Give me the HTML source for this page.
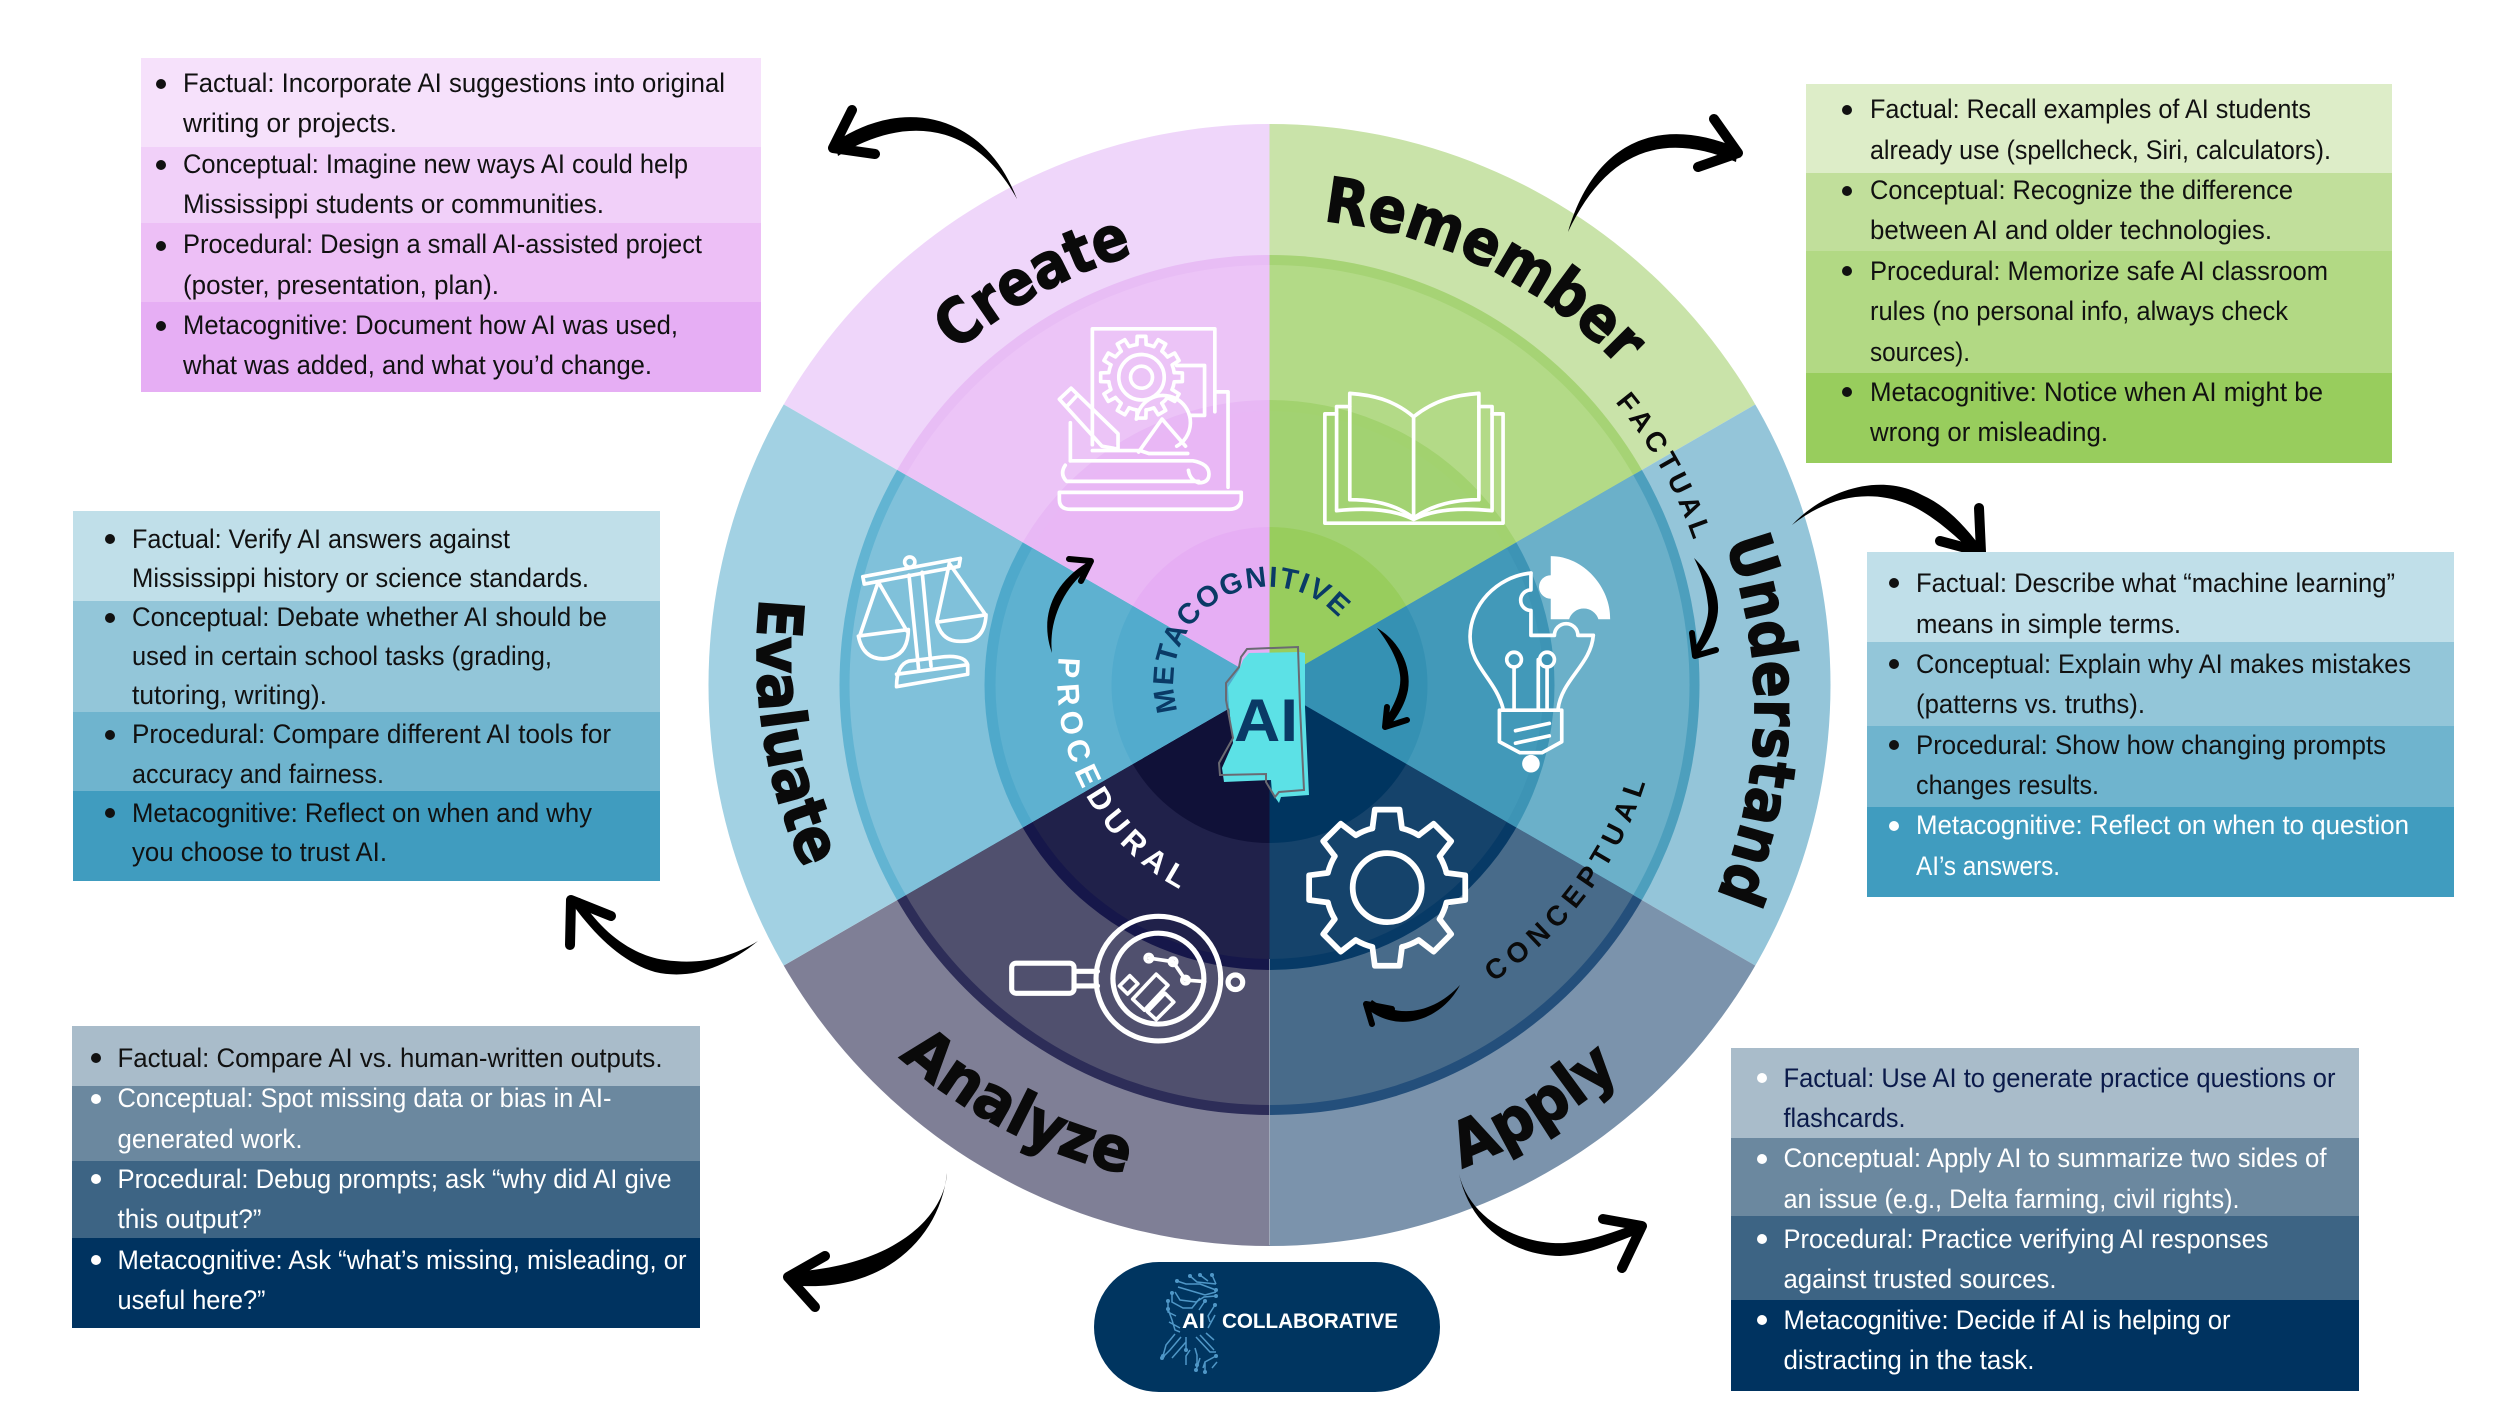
<!DOCTYPE html>
<html lang="en"><head><meta charset="utf-8"><title>AI Bloom's Taxonomy Wheel</title>
<style>html,body{margin:0;padding:0;background:#fff}svg{display:block}
.t{font-family:"Liberation Sans",sans-serif;font-size:27px;fill:#111}
.w{fill:#fff}.n{fill:#0b1a4a}
.h{font-family:"DejaVu Sans",sans-serif;font-weight:700;font-size:62px;fill:#0a0a0a;stroke:#0a0a0a;stroke-width:1.4}
.s{font-family:"Liberation Sans",sans-serif;font-weight:700;font-size:31px}
.i{fill:none;stroke:#fff;stroke-width:5;stroke-linejoin:round;stroke-linecap:round}
.b{fill:none;stroke:#000;stroke-width:10;stroke-linecap:round;stroke-linejoin:round}
.b6{fill:none;stroke:#000;stroke-width:6;stroke-linecap:round;stroke-linejoin:round}
.c{fill:none;stroke:#4f97c7;stroke-width:1.5}
</style></head><body>
<svg xmlns="http://www.w3.org/2000/svg" width="2500" height="1406" viewBox="0 0 2500 1406">
<defs>
<clipPath id="cCreate"><polygon points="1271,686 1271,-14 665,336"/></clipPath>
<clipPath id="cRem"><polygon points="1271,686 1271,-14 1877,336"/></clipPath>
<clipPath id="cUnd"><polygon points="1271,686 1877,336 1877,1036"/></clipPath>
<clipPath id="cApp"><polygon points="1271,686 1877,1036 1271,1386"/></clipPath>
<clipPath id="cAna"><polygon points="1271,686 1271,1386 665,1036"/></clipPath>
<clipPath id="cEva"><polygon points="1271,686 665,1036 665,336"/></clipPath>
<path id="pRem" d="M1323,221 A470,470 0 0 1 1626,374"/>
<path id="pCre" d="M956,352 A480,480 0 0 1 1136,254"/>
<path id="pUnd" d="M1725,542 A480,480 0 0 1 1714,902"/>
<path id="pApp" d="M1462,1168 A517,517 0 0 0 1620,1072"/>
<path id="pAna" d="M899,1057 A515,515 0 0 0 1126,1174"/>
<path id="pEva" d="M760,598 A515,515 0 0 0 808,878"/>
<path id="pMeta" d="M1178,711 A95,95 0 0 1 1358.800,652.500"/>
<path id="pProc" d="M1059,657 A235,235 0 0 0 1215,905"/>
<path id="pFact" d="M1615,402 A447,447 0 0 1 1700,560"/>
<path id="pConc" d="M1493,982 A375,375 0 0 0 1652,760"/>
</defs>
<rect width="2500" height="1406" fill="#fff"/>

<!-- wheel -->
<g transform="translate(-1.5,-1)">
<g clip-path="url(#cCreate)"><circle cx="1271" cy="686" r="561" fill="#efd6fa"/><circle cx="1271" cy="686" r="430" fill="#e8bdf5"/><circle cx="1271" cy="686" r="420" fill="#ecc4f7"/><circle cx="1271" cy="686" r="285" fill="#e8b8f5"/><circle cx="1271" cy="686" r="274" fill="#e9b7f5"/><circle cx="1271" cy="686" r="158" fill="#e6aef4"/></g>
<g clip-path="url(#cRem)"><circle cx="1271" cy="686" r="561" fill="#c9e3a9"/><circle cx="1271" cy="686" r="430" fill="#a6d375"/><circle cx="1271" cy="686" r="420" fill="#b3da87"/><circle cx="1271" cy="686" r="285" fill="#a2d26f"/><circle cx="1271" cy="686" r="274" fill="#a2d272"/><circle cx="1271" cy="686" r="158" fill="#98cd5d"/></g>
<g clip-path="url(#cUnd)"><circle cx="1271" cy="686" r="561" fill="#94c5d9"/><circle cx="1271" cy="686" r="430" fill="#4d9fbd"/><circle cx="1271" cy="686" r="420" fill="#6bb0c9"/><circle cx="1271" cy="686" r="285" fill="#3d94b5"/><circle cx="1271" cy="686" r="274" fill="#4299b9"/><circle cx="1271" cy="686" r="158" fill="#3591b3"/></g>
<g clip-path="url(#cApp)"><circle cx="1271" cy="686" r="561" fill="#7b93ac"/><circle cx="1271" cy="686" r="430" fill="#244f7b"/><circle cx="1271" cy="686" r="420" fill="#486b8a"/><circle cx="1271" cy="686" r="285" fill="#073a66"/><circle cx="1271" cy="686" r="274" fill="#15436b"/><circle cx="1271" cy="686" r="158" fill="#003560"/></g>
<g clip-path="url(#cAna)"><circle cx="1271" cy="686" r="561" fill="#7f7f96"/><circle cx="1271" cy="686" r="430" fill="#2d2d58"/><circle cx="1271" cy="686" r="420" fill="#50506e"/><circle cx="1271" cy="686" r="285" fill="#16174a"/><circle cx="1271" cy="686" r="274" fill="#20214a"/><circle cx="1271" cy="686" r="158" fill="#101138"/></g>
<g clip-path="url(#cEva)"><circle cx="1271" cy="686" r="561" fill="#a2d1e3"/><circle cx="1271" cy="686" r="430" fill="#62b4d2"/><circle cx="1271" cy="686" r="420" fill="#80c1da"/><circle cx="1271" cy="686" r="285" fill="#4fa9cb"/><circle cx="1271" cy="686" r="274" fill="#5eb1d0"/><circle cx="1271" cy="686" r="158" fill="#52abcd"/></g>
<line x1="1271" y1="960" x2="1271" y2="1246" stroke="#b7c0cc" stroke-width="1" opacity=".6"/>
</g>

<!-- wheel labels -->
<text class="h" textLength="338" lengthAdjust="spacingAndGlyphs"><textPath href="#pRem">Remember</textPath></text>
<text class="h" textLength="204" lengthAdjust="spacingAndGlyphs"><textPath href="#pCre">Create</textPath></text>
<text class="h" textLength="362" lengthAdjust="spacingAndGlyphs"><textPath href="#pUnd">Understand</textPath></text>
<text class="h" textLength="186" lengthAdjust="spacingAndGlyphs"><textPath href="#pApp">Apply</textPath></text>
<text class="h" textLength="258" lengthAdjust="spacingAndGlyphs"><textPath href="#pAna">Analyze</textPath></text>
<text class="h" textLength="278" lengthAdjust="spacingAndGlyphs"><textPath href="#pEva">Evaluate</textPath></text>
<text class="s" fill="#0a3a66" style="font-size:29px;letter-spacing:1.5px"><textPath href="#pMeta">METACOGNITIVE</textPath></text>
<text class="s" fill="#fff" style="letter-spacing:6.5px"><textPath href="#pProc">PROCEDURAL</textPath></text>
<text class="s" fill="#0a0a0a" style="font-size:28px;letter-spacing:4.8px"><textPath href="#pFact">FACTUAL</textPath></text>
<text class="s" fill="#0a0a0a" style="font-size:28px;letter-spacing:6.800px"><textPath href="#pConc">CONCEPTUAL</textPath></text>

<!-- icons (coordinates in a magnified frame) -->
<g transform="translate(700,100) scale(.7334)">
 <!-- book -->
 <g class="i">
  <path d="M973,432C945,408 915,402 886,400V545C920,545 950,552 973,570Z"/>
  <path d="M973,432C1003,408 1033,402 1062,400V545C1030,545 998,552 973,570"/>
  <path d="M886,418H868V560C915,555 950,560 973,572C996,560 1032,555 1080,560V418H1062"/>
  <path d="M868,428H852V577H1095V428H1080"/>
 </g>
 <!-- create icon -->
 <g class="i">
  <path d="M535,470V312H702V425"/>
  <path d="M650,362H688V430H668"/>
  <g transform="translate(602,378)">
   <path d="M-6.3,-44.6L-5.9,-55.7L5.9,-55.7L6.3,-44.6A45,45 0 0 1 16.9,-41.7"/>
   <path transform="rotate(30)" d="M-6.3,-44.6L-5.9,-55.7L5.9,-55.7L6.3,-44.6A45,45 0 0 1 16.9,-41.7"/>
   <path transform="rotate(60)" d="M-6.3,-44.6L-5.9,-55.7L5.9,-55.7L6.3,-44.6A45,45 0 0 1 16.9,-41.7"/>
   <path transform="rotate(90)" d="M-6.3,-44.6L-5.9,-55.7L5.9,-55.7L6.3,-44.6A45,45 0 0 1 16.9,-41.7"/>
   <path transform="rotate(120)" d="M-6.3,-44.6L-5.9,-55.7L5.9,-55.7L6.3,-44.6A45,45 0 0 1 16.9,-41.7"/>
   <path transform="rotate(150)" d="M-6.3,-44.6L-5.9,-55.7L5.9,-55.7L6.3,-44.6A45,45 0 0 1 16.9,-41.7"/>
   <path transform="rotate(180)" d="M-6.3,-44.6L-5.9,-55.7L5.9,-55.7L6.3,-44.6A45,45 0 0 1 16.9,-41.7"/>
   <path transform="rotate(210)" d="M-6.3,-44.6L-5.9,-55.7L5.9,-55.7L6.3,-44.6A45,45 0 0 1 16.9,-41.7"/>
   <path transform="rotate(240)" d="M-6.3,-44.6L-5.9,-55.7L5.9,-55.7L6.3,-44.6A45,45 0 0 1 16.9,-41.7"/>
   <path transform="rotate(270)" d="M-6.3,-44.6L-5.9,-55.7L5.9,-55.7L6.3,-44.6A45,45 0 0 1 16.9,-41.7"/>
   <path transform="rotate(300)" d="M-6.3,-44.6L-5.9,-55.7L5.9,-55.7L6.3,-44.6A45,45 0 0 1 16.9,-41.7"/>
   <path transform="rotate(330)" d="M-6.3,-44.6L-5.9,-55.7L5.9,-55.7L6.3,-44.6A45,45 0 0 1 16.9,-41.7"/>
   <circle r="31"/><circle r="15"/>
  </g>
  <path d="M595,435A37,37 0 1 1 650,472"/>
  <path d="M598,480L630,435L662,472"/>
  <path d="M490,408L506,393L570,455V476L548,472Z"/><path d="M500,418L514,403"/>
  <path d="M505,440V492M702,398H720V528"/>
  <path d="M535,478H600L612,482H665"/>
  <path d="M505,492H672Q694,496 694,510Q694,522 680,522Q668,518 666,505M498,498Q490,510 500,520H680"/>
  <path d="M490,535H738V545Q736,558 722,558H505Q490,558 490,545Z"/>
 </g>
 <!-- scale -->
 <g class="i">
  <circle cx="286" cy="630" r="7"/>
  <path d="M222,650L355,625L353,636L224,660Z"/>
  <path d="M285,648L298,775M303,644L315,772"/>
  <path d="M243,657L218,730M243,657L282,724M216,731L284,722Q284,760 250,762Q222,762 216,731Z"/>
  <path d="M340,632L323,710M340,632L388,700M323,712L390,702Q388,738 358,738Q330,740 323,712Z"/>
  <path d="M268,783L365,770Q360,755 325,760L285,765Q268,770 268,800L365,783V770"/>
 </g>
 <!-- bulb -->
 <g class="i">
  <path d="M1133,645C1085,650 1050,690 1050,732C1050,772 1085,790 1095,830"/>
  <path d="M1218,730C1215,770 1175,790 1170,830"/>
  <path d="M1133,645V668A14,14 0 0 0 1133,696V730H1165A16,16 0 0 1 1197,730H1218"/>
  <circle cx="1110" cy="763" r="10"/><circle cx="1155" cy="763" r="10"/>
  <path d="M1110,775V832M1143,763V832M1155,773V832"/>
  <path d="M1090,832H1175V875L1148,890H1118L1090,875Z"/>
  <path d="M1112,860L1158,850M1112,877L1158,867"/>
 </g>
 <path fill="#fff" d="M1160,622C1205,622 1242,665 1241,708H1225A21,21 0 0 0 1185,708H1160V680A16,16 0 0 1 1160,648Z"/>
 <circle cx="1133" cy="905" r="12" fill="#fff"/>
 <!-- apply gear -->
 <g class="i" style="stroke-width:8" transform="translate(937,1074) scale(.98)">
  <path d="M-20.6,-82.5L-17.2,-108.6L17.2,-108.6L20.6,-82.5A85,85 0 0 1 43.8,-72.9"/>
  <path transform="rotate(45)" d="M-20.6,-82.5L-17.2,-108.6L17.2,-108.6L20.6,-82.5A85,85 0 0 1 43.8,-72.9"/>
  <path transform="rotate(90)" d="M-20.6,-82.5L-17.2,-108.6L17.2,-108.6L20.6,-82.5A85,85 0 0 1 43.8,-72.9"/>
  <path transform="rotate(135)" d="M-20.6,-82.5L-17.2,-108.6L17.2,-108.6L20.6,-82.5A85,85 0 0 1 43.8,-72.9"/>
  <path transform="rotate(180)" d="M-20.6,-82.5L-17.2,-108.6L17.2,-108.6L20.6,-82.5A85,85 0 0 1 43.8,-72.9"/>
  <path transform="rotate(225)" d="M-20.6,-82.5L-17.2,-108.6L17.2,-108.6L20.6,-82.5A85,85 0 0 1 43.8,-72.9"/>
  <path transform="rotate(270)" d="M-20.6,-82.5L-17.2,-108.6L17.2,-108.6L20.6,-82.5A85,85 0 0 1 43.8,-72.9"/>
  <path transform="rotate(315)" d="M-20.6,-82.5L-17.2,-108.6L17.2,-108.6L20.6,-82.5A85,85 0 0 1 43.8,-72.9"/>
  <circle r="48"/>
 </g>
 <!-- magnifier -->
 <g class="i" style="stroke-width:7">
  <circle cx="625" cy="1198" r="85"/><circle cx="625" cy="1198" r="62"/>
  <rect x="425" y="1177" width="85" height="41" rx="6"/>
  <path d="M510,1188H542M510,1208H542"/>
  <circle cx="730" cy="1203" r="10"/>
 </g>
 <g class="i" style="stroke-width:5">
  <path d="M572,1208L586,1194L597,1205L583,1219Z"/>
  <path d="M590,1226L622,1192L638,1207L606,1241Z"/>
  <path d="M610,1243L634,1218L646,1230L622,1254Z"/>
  <path d="M612,1170L645,1175L662,1200L688,1202"/>
  <circle cx="612" cy="1170" r="5"/><circle cx="645" cy="1175" r="5"/><circle cx="662" cy="1200" r="5"/>
 </g>
</g>

<!-- Mississippi -->
<path fill="#5ce1e6" d="M1249,653L1300,652L1305,653L1305,707L1309,795L1281,797L1279,803L1272,793L1271,780L1224,782L1222,768L1233,743L1229,707L1228,687L1239,670L1243,660Z"/>
<path fill="none" stroke="#6a6a72" stroke-width="2" d="M1247,649L1298,647L1300,707L1304,790L1279,792L1275,797L1266,782L1266,774L1220,775L1219,763L1233,738L1226,700L1226,683L1239,667L1241,657Z"/>
<text x="1234" y="741" textLength="64" lengthAdjust="spacingAndGlyphs" style="font-family:'Liberation Sans',sans-serif;font-weight:700;font-size:60px;fill:#0a3a66">AI</text>

<!-- outer arrows -->
<path d="M1017,199C985,115 905,95 835,142L838,156C905,114 975,122 1017,199Z"/><polyline class="b" points="852,110 833,148 875,154"/>
<path d="M1568,232C1595,140 1660,115 1738,148L1736,162C1660,129 1605,154 1568,232Z"/><polyline class="b" points="1714,119 1738,153 1698,167"/>
<path d="M1792,525C1825,490 1880,472 1922,495C1945,505 1965,525 1985,553L1972,552C1950,530 1925,510 1905,503C1870,490 1830,495 1792,525Z"/><polyline class="b" points="1979,508 1981,552 1940,541"/>
<path d="M1459,1174C1470,1220 1520,1245 1565,1243C1590,1241 1615,1232 1640,1222L1643,1232C1615,1242 1590,1255 1560,1256C1510,1255 1470,1225 1459,1174Z"/><polyline class="b" points="1603,1219 1642,1226 1622,1268"/>
<path d="M947,1173C945,1210 905,1265 790,1272L790,1285C880,1295 940,1240 947,1173Z"/><polyline class="b" points="825,1256 788,1277 815,1307"/>
<path d="M758,941C725,968 690,980 655,972C620,962 590,930 568,898L580,898C600,930 630,955 665,960C700,965 730,958 758,941Z"/><polyline class="b" points="611,916 571,900 570,945"/>
<!-- inner arrows -->
<path d="M1694,558C1712,575 1724,600 1715,625C1711,637 1704,648 1697,656L1692,652C1700,640 1710,620 1708,605C1706,585 1700,570 1694,558Z"/><polyline class="b6" points="1716,650 1695,656 1692,633"/>
<path d="M1460,985C1443,1018 1400,1036 1366,1008L1372,1000C1400,1020 1435,1012 1460,985Z"/><polyline class="b6" points="1372,1024 1366,1004 1392,1009"/>
<path d="M1377,628C1398,640 1412,665 1408,690C1405,705 1398,715 1390,726L1384,722C1394,705 1402,690 1400,675C1398,660 1390,645 1377,628Z"/><polyline class="b6" points="1387,707 1385,727 1407,720"/>
<path d="M1052,653C1040,620 1050,585 1088,562L1091,567C1065,585 1048,620 1052,653Z"/><polyline class="b6" points="1069,559 1091,561 1081,581"/>

<!-- Create panel -->
<rect x="141" y="58" width="620" height="89" fill="#f6e1fb"/><rect x="141" y="147" width="620" height="76" fill="#f1d0f9"/><rect x="141" y="223" width="620" height="79" fill="#edbff6"/><rect x="141" y="302" width="620" height="90" fill="#e6aef4"/>
<g fill="#111"><circle cx="161" cy="84" r="5"/><circle cx="161" cy="165" r="5"/><circle cx="161" cy="246" r="5"/><circle cx="161" cy="326" r="5"/></g>
<text class="t" x="183" y="92" textLength="542" lengthAdjust="spacingAndGlyphs">Factual: Incorporate AI suggestions into original</text>
<text class="t" x="183" y="132" textLength="214" lengthAdjust="spacingAndGlyphs">writing or projects.</text>
<text class="t" x="183" y="173" textLength="505" lengthAdjust="spacingAndGlyphs">Conceptual: Imagine new ways AI could help</text>
<text class="t" x="183" y="213" textLength="421" lengthAdjust="spacingAndGlyphs">Mississippi students or communities.</text>
<text class="t" x="183" y="253" textLength="519" lengthAdjust="spacingAndGlyphs">Procedural: Design a small AI-assisted project</text>
<text class="t" x="183" y="294" textLength="316" lengthAdjust="spacingAndGlyphs">(poster, presentation, plan).</text>
<text class="t" x="183" y="334" textLength="495" lengthAdjust="spacingAndGlyphs">Metacognitive: Document how AI was used,</text>
<text class="t" x="183" y="374" textLength="469" lengthAdjust="spacingAndGlyphs">what was added, and what you’d change.</text>

<!-- Remember panel -->
<rect x="1806" y="84" width="586" height="89" fill="#ddedc8"/><rect x="1806" y="173" width="586" height="78" fill="#c1df9b"/><rect x="1806" y="251" width="586" height="122" fill="#b2d984"/><rect x="1806" y="373" width="586" height="90" fill="#98cd5d"/>
<g fill="#111"><circle cx="1847" cy="110" r="5"/><circle cx="1847" cy="191" r="5"/><circle cx="1847" cy="271" r="5"/><circle cx="1847" cy="392" r="5"/></g>
<text class="t" x="1870" y="118" textLength="441" lengthAdjust="spacingAndGlyphs">Factual: Recall examples of AI students</text>
<text class="t" x="1870" y="159" textLength="461" lengthAdjust="spacingAndGlyphs">already use (spellcheck, Siri, calculators).</text>
<text class="t" x="1870" y="199" textLength="423" lengthAdjust="spacingAndGlyphs">Conceptual: Recognize the difference</text>
<text class="t" x="1870" y="239" textLength="402" lengthAdjust="spacingAndGlyphs">between AI and older technologies.</text>
<text class="t" x="1870" y="280" textLength="458" lengthAdjust="spacingAndGlyphs">Procedural: Memorize safe AI classroom</text>
<text class="t" x="1870" y="320" textLength="418" lengthAdjust="spacingAndGlyphs">rules (no personal info, always check</text>
<text class="t" x="1870" y="361" textLength="100" lengthAdjust="spacingAndGlyphs">sources).</text>
<text class="t" x="1870" y="401" textLength="453" lengthAdjust="spacingAndGlyphs">Metacognitive: Notice when AI might be</text>
<text class="t" x="1870" y="441" textLength="238" lengthAdjust="spacingAndGlyphs">wrong or misleading.</text>

<!-- Understand panel -->
<rect x="1867" y="552" width="587" height="90" fill="#c0dfe9"/><rect x="1867" y="642" width="587" height="84" fill="#93c6d9"/><rect x="1867" y="726" width="587" height="81" fill="#6fb4ce"/><rect x="1867" y="807" width="587" height="90" fill="#409cbf"/>
<circle cx="1894" cy="583" r="5" fill="#111"/><circle cx="1894" cy="664" r="5" fill="#111"/><circle cx="1894" cy="745" r="5" fill="#111"/><circle cx="1894" cy="826" r="5" fill="#fff"/>
<text class="t" x="1916" y="592" textLength="479" lengthAdjust="spacingAndGlyphs">Factual: Describe what “machine learning”</text>
<text class="t" x="1916" y="633" textLength="265" lengthAdjust="spacingAndGlyphs">means in simple terms.</text>
<text class="t" x="1916" y="673" textLength="495" lengthAdjust="spacingAndGlyphs">Conceptual: Explain why AI makes mistakes</text>
<text class="t" x="1916" y="713" textLength="229" lengthAdjust="spacingAndGlyphs">(patterns vs. truths).</text>
<text class="t" x="1916" y="754" textLength="470" lengthAdjust="spacingAndGlyphs">Procedural: Show how changing prompts</text>
<text class="t" x="1916" y="794" textLength="183" lengthAdjust="spacingAndGlyphs">changes results.</text>
<text class="t w" x="1916" y="834" textLength="493" lengthAdjust="spacingAndGlyphs">Metacognitive: Reflect on when to question</text>
<text class="t w" x="1916" y="875" textLength="144" lengthAdjust="spacingAndGlyphs">AI’s answers.</text>

<!-- Apply panel -->
<rect x="1731" y="1048" width="628" height="90" fill="#a9bcca"/><rect x="1731" y="1138" width="628" height="78" fill="#6b889f"/><rect x="1731" y="1216" width="628" height="84" fill="#3d6484"/><rect x="1731" y="1300" width="628" height="91" fill="#003360"/>
<g fill="#fff"><circle cx="1762" cy="1078" r="5"/><circle cx="1762" cy="1159" r="5"/><circle cx="1762" cy="1239" r="5"/><circle cx="1762" cy="1320" r="5"/></g>
<text class="t n" x="1783.500" y="1087" textLength="552" lengthAdjust="spacingAndGlyphs">Factual: Use AI to generate practice questions or</text>
<text class="t n" x="1783.500" y="1127" textLength="122" lengthAdjust="spacingAndGlyphs">flashcards.</text>
<text class="t w" x="1783.500" y="1167" textLength="543" lengthAdjust="spacingAndGlyphs">Conceptual: Apply AI to summarize two sides of</text>
<text class="t w" x="1783.500" y="1208" textLength="456" lengthAdjust="spacingAndGlyphs">an issue (e.g., Delta farming, civil rights).</text>
<text class="t w" x="1783.500" y="1248" textLength="485" lengthAdjust="spacingAndGlyphs">Procedural: Practice verifying AI responses</text>
<text class="t w" x="1783.500" y="1288" textLength="273" lengthAdjust="spacingAndGlyphs">against trusted sources.</text>
<text class="t w" x="1783.500" y="1329" textLength="447" lengthAdjust="spacingAndGlyphs">Metacognitive: Decide if AI is helping or</text>
<text class="t w" x="1783.500" y="1369" textLength="251" lengthAdjust="spacingAndGlyphs">distracting in the task.</text>

<!-- Evaluate panel -->
<rect x="73" y="511" width="587" height="90" fill="#c0dfe9"/><rect x="73" y="601" width="587" height="111" fill="#93c6d9"/><rect x="73" y="712" width="587" height="79" fill="#6fb4ce"/><rect x="73" y="791" width="587" height="90" fill="#409cbf"/>
<g fill="#111"><circle cx="110" cy="539" r="5"/><circle cx="110" cy="618" r="5"/><circle cx="110" cy="735" r="5"/><circle cx="110" cy="813" r="5"/></g>
<text class="t" x="132" y="548" textLength="378" lengthAdjust="spacingAndGlyphs">Factual: Verify AI answers against</text>
<text class="t" x="132" y="587" textLength="457" lengthAdjust="spacingAndGlyphs">Mississippi history or science standards.</text>
<text class="t" x="132" y="626" textLength="475" lengthAdjust="spacingAndGlyphs">Conceptual: Debate whether AI should be</text>
<text class="t" x="132" y="665" textLength="420" lengthAdjust="spacingAndGlyphs">used in certain school tasks (grading,</text>
<text class="t" x="132" y="704" textLength="195" lengthAdjust="spacingAndGlyphs">tutoring, writing).</text>
<text class="t" x="132" y="743" textLength="479" lengthAdjust="spacingAndGlyphs">Procedural: Compare different AI tools for</text>
<text class="t" x="132" y="783" textLength="252" lengthAdjust="spacingAndGlyphs">accuracy and fairness.</text>
<text class="t" x="132" y="822" textLength="460" lengthAdjust="spacingAndGlyphs">Metacognitive: Reflect on when and why</text>
<text class="t" x="132" y="861" textLength="255" lengthAdjust="spacingAndGlyphs">you choose to trust AI.</text>

<!-- Analyze panel -->
<rect x="72" y="1026" width="628" height="60" fill="#a9bcca"/><rect x="72" y="1086" width="628" height="75" fill="#6b889f"/><rect x="72" y="1161" width="628" height="77" fill="#3d6484"/><rect x="72" y="1238" width="628" height="90" fill="#003360"/>
<circle cx="96" cy="1058" r="5" fill="#111"/><g fill="#fff"><circle cx="96" cy="1099" r="5"/><circle cx="96" cy="1179" r="5"/><circle cx="96" cy="1260" r="5"/></g>
<text class="t" x="117.500" y="1067" textLength="545" lengthAdjust="spacingAndGlyphs">Factual: Compare AI vs. human-written outputs.</text>
<text class="t w" x="117.500" y="1107" textLength="494" lengthAdjust="spacingAndGlyphs">Conceptual: Spot missing data or bias in AI-</text>
<text class="t w" x="117.500" y="1148" textLength="185" lengthAdjust="spacingAndGlyphs">generated work.</text>
<text class="t w" x="117.500" y="1188" textLength="554" lengthAdjust="spacingAndGlyphs">Procedural: Debug prompts; ask “why did AI give</text>
<text class="t w" x="117.500" y="1228" textLength="144" lengthAdjust="spacingAndGlyphs">this output?”</text>
<text class="t w" x="117.500" y="1269" textLength="569" lengthAdjust="spacingAndGlyphs">Metacognitive: Ask “what’s missing, misleading, or</text>
<text class="t w" x="117.500" y="1309" textLength="148" lengthAdjust="spacingAndGlyphs">useful here?”</text>

<!-- pill logo -->
<rect x="1094" y="1262" width="346" height="130" rx="65" fill="#003560"/>
<g class="c">
 <path d="M1177,1281L1186,1284L1200,1284L1216,1290M1190,1276L1197,1282L1216,1284M1200,1275L1208,1281M1212,1275L1216,1284"/>
 <path d="M1178,1287L1195,1292L1205,1295L1216,1292M1175,1292L1180,1300L1196,1302L1204,1297L1216,1296"/>
 <path d="M1172,1293V1302L1183,1308H1192L1200,1298M1168,1301V1312L1176,1316M1168,1309L1172,1320L1175,1330L1180,1332M1169,1322L1180,1328"/>
 <path d="M1205,1301L1199,1310M1215,1305L1208,1316L1210,1322M1215,1315L1208,1328M1206,1333L1214,1340"/>
 <path d="M1175,1334L1166,1345L1163,1356M1181,1337L1170,1350L1162,1358M1186,1342L1172,1358M1186,1337V1350"/>
 <path d="M1190,1350L1186,1356V1365M1195,1348L1197,1355V1365M1196,1337L1210,1352L1216,1352M1200,1335L1214,1350"/>
 <path d="M1200,1358L1196,1370M1205,1362L1203,1368M1216,1356L1205,1362L1205,1372M1217,1362L1212,1368"/>
</g>
<g fill="#4f97c7"><circle cx="1177" cy="1281" r="2"/><circle cx="1190" cy="1276" r="2"/><circle cx="1200" cy="1275" r="2"/><circle cx="1212" cy="1275" r="2"/><circle cx="1216" cy="1290" r="2"/><circle cx="1216" cy="1296" r="2"/><circle cx="1172" cy="1293" r="2"/><circle cx="1168" cy="1301" r="2"/><circle cx="1168" cy="1309" r="2"/><circle cx="1205" cy="1301" r="2"/><circle cx="1215" cy="1305" r="2"/><circle cx="1163" cy="1356" r="2"/><circle cx="1162" cy="1358" r="2"/><circle cx="1186" cy="1350" r="2"/><circle cx="1197" cy="1365" r="2"/><circle cx="1205" cy="1372" r="2"/><circle cx="1216" cy="1356" r="2"/><circle cx="1196" cy="1370" r="2"/></g>
<text x="1182" y="1328" textLength="23" lengthAdjust="spacingAndGlyphs" style="font-family:'Liberation Sans',sans-serif;font-weight:700;font-size:21px;fill:#fff">AI</text>
<text x="1222" y="1328" textLength="176" lengthAdjust="spacingAndGlyphs" style="font-family:'Liberation Sans',sans-serif;font-weight:700;font-size:21px;fill:#fff">COLLABORATIVE</text>
</svg>
</body></html>
